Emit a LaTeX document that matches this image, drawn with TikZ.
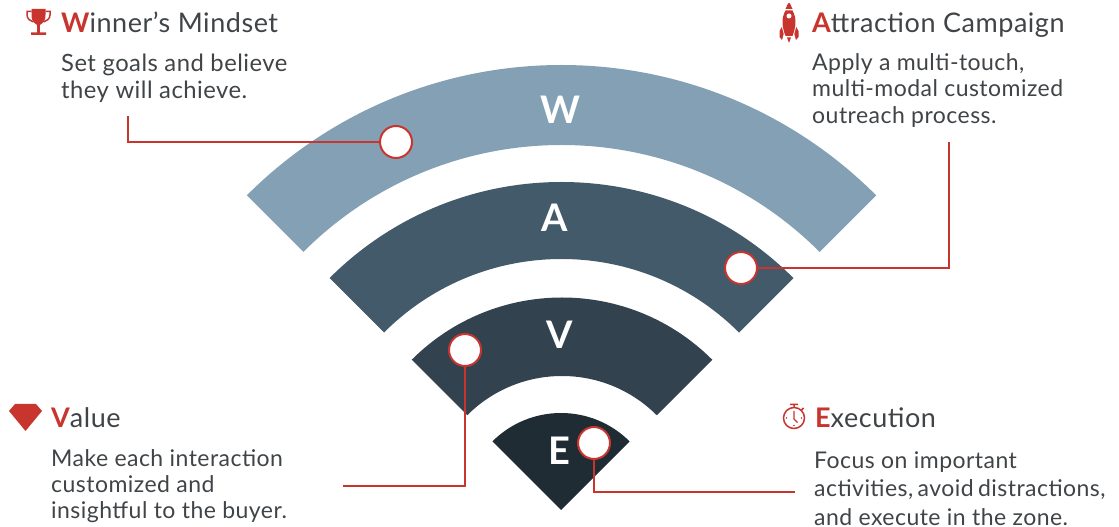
\documentclass[tikz,border=0pt]{standalone}
\usepackage{fontspec}
\setmainfont[LetterSpace=2.0]{Lato}
\usetikzlibrary{positioning}
\usepackage{xcolor}
\definecolor{wavered}{HTML}{C8352F}
\definecolor{wavetext}{HTML}{404447}
\definecolor{bandw}{HTML}{84A0B4}
\definecolor{banda}{HTML}{435A6A}
\definecolor{bandv}{HTML}{32434F}
\definecolor{bande}{HTML}{1F2C34}
\tikzset{
  dot/.style={draw=wavered, line width=2pt, circle, fill=white, minimum size=32pt, inner sep=0pt},
  leader/.style={draw=wavered, line width=2pt},
  letter/.style={text=white, font=\fontsize{38}{38}\selectfont\bfseries, inner sep=0pt},
  title/.style={text=wavetext, font=\fontsize{27}{30}\selectfont, inner sep=0pt, anchor=base west},
  body/.style={text=wavetext, font=\fontsize{23}{#1}\selectfont, inner sep=0pt, align=left, anchor=north west},
  body/.default=27
}
\newcommand{\firstletter}[1]{{\color{wavered}\bfseries #1}}
\begin{document}
\begin{tikzpicture}[x=1pt, y=1pt]
  \useasboundingbox (0,0) rectangle (1119,527);
  % bands
  \fill[bandw, shift={(561.5,17)}] (45:365) arc (45:135:365) -- (135:445) arc (135:45:445) -- cycle;
  \fill[banda, shift={(561.5,17)}] (45:251) arc (45:135:251) -- (135:328) arc (135:45:328) -- cycle;
  \fill[bandv, shift={(562,17)}] (45:134) arc (45:135:134) -- (135:212.5) arc (135:45:212.5) -- cycle;
  \fill[bande, shift={(561,17)}] (0,0) -- (135:97) arc (135:45:97) -- cycle;
  \node[letter] (lw) at (560,417) {W};
  \node[letter] (la) at (555,309) {A};
  \node[letter] (lv) at (560,192) {V};
  \node[letter] (le) at (559,76) {E};
  % titles and text
  \node[title] (tw) at (61,494) {\firstletter{W}inner’s Mindset};
  \node[body, font=\fontsize{23.8}{27}\selectfont, below=21pt of tw.base west, anchor=north west] (bw) {Set goals and believe\\they will achieve.};
  \node[title] (ta) at (812,494) {\firstletter{A}ttraction Campaign};
  \node[body=26.5, below=20pt of ta.base west, anchor=north west] (ba) {Apply a multi-touch,\\multi-modal customized\\outreach process.};
  \node[title] (tv) at (51,99) {\firstletter{V}alue};
  \node[body=26, below=21pt of tv.base west, anchor=north west] (bv) {Make each interaction\\customized and\\insightful to the buyer.};
  \node[title] (te) at (815,99) {\firstletter{E}xecution};
  \node[body=28.5, below=23.5pt of te.base west, xshift=-1pt, anchor=north west] (be) {Focus on important\\activities,\hspace{-2pt} avoid\hspace{-2pt} distractions,\\and execute in the zone.};
  % markers
  \node[dot] (dw) at (396,385) {};
  \node[dot] (da) at (741,259) {};
  \node[dot] (dv) at (465,177) {};
  \node[dot] (de) at (594,84) {};
  \coordinate (cw) at (128,411);
  \coordinate (ca) at (949,385);
  \coordinate (cv) at (343,41);
  \coordinate (ce) at (795,35);
  \draw[leader] (cw) |- (dw);
  \draw[leader] (ca) |- (da);
  \draw[leader] (dv) |- (cv);
  \draw[leader] (de) |- (ce);
  % trophy
  \begin{scope}[shift={(38.5,505)}]
    \fill[wavered] (-7,13) -- (7,13) -- (7,7) .. controls (7,0) and (3,-2) .. (1.3,-3) -- (1.3,-10.5) -- (7.5,-10.5) -- (7.5,-13) -- (-7.5,-13) -- (-7.5,-10.5) -- (-1.3,-10.5) -- (-1.3,-3) .. controls (-3,-2) and (-7,0) .. (-7,7) -- cycle;
    \draw[wavered, line width=1.5pt] (-7,10.5) -- (-11.5,10.5) -- (-11.5,7) .. controls (-11.5,3) and (-8,1) .. (-5,0);
    \draw[wavered, line width=1.5pt] (7,10.5) -- (11.5,10.5) -- (11.5,7) .. controls (11.5,3) and (8,1) .. (5,0);
  \end{scope}
  % rocket
  \begin{scope}[shift={(789,504)}]
    \fill[wavered] (-3.5,14) -- (-1,19.5) -- (0,20) -- (1,19.5) -- (3.5,14) -- cycle;
    \fill[wavered] (-3.5,12.5) -- (3.5,12.5) .. controls (5.5,9) and (6.5,5) .. (6.5,1) .. controls (6.5,-4) and (5,-9) .. (3.5,-13) -- (-3.5,-13) .. controls (-5,-9) and (-6.5,-4) .. (-6.5,1) .. controls (-6.5,5) and (-5.5,9) .. (-3.5,12.5) -- cycle;
    \fill[wavered] (-7.2,-4) -- (-5.3,-11) -- (-7,-17) -- (-9.5,-14) -- (-9.5,-8) -- cycle;
    \fill[wavered] (7.2,-4) -- (5.3,-11) -- (7,-17) -- (9.5,-14) -- (9.5,-8) -- cycle;
    \fill[wavered] (-2,-14.5) -- (2,-14.5) -- (0,-20) -- cycle;
    \fill[white] (0,7) circle (2.5);
  \end{scope}
  % gem
  \begin{scope}[shift={(25.5,110)}]
    \fill[wavered] (-10.5,13) -- (10.5,13) -- (16.5,6) -- (0,-14) -- (-16.5,6) -- cycle;
  \end{scope}
  % stopwatch
  \begin{scope}[shift={(794,109)}]
    \draw[wavered, line width=1.5pt] (0,0) circle (10.5);
    \draw[wavered, line width=1.5pt] (-4,13.5) -- (4,13.5) (0,13.5) -- (0,10.5) (7.5,8) -- (9.5,10);
    \draw[wavered, line width=1.2pt] (0,7) -- (0,-1) -- (3.5,-4.5);
    \fill[wavered] (-7.5,0) circle (0.8) (7.5,0) circle (0.8) (0,-7.5) circle (0.8);
  \end{scope}
\end{tikzpicture}
\end{document}
